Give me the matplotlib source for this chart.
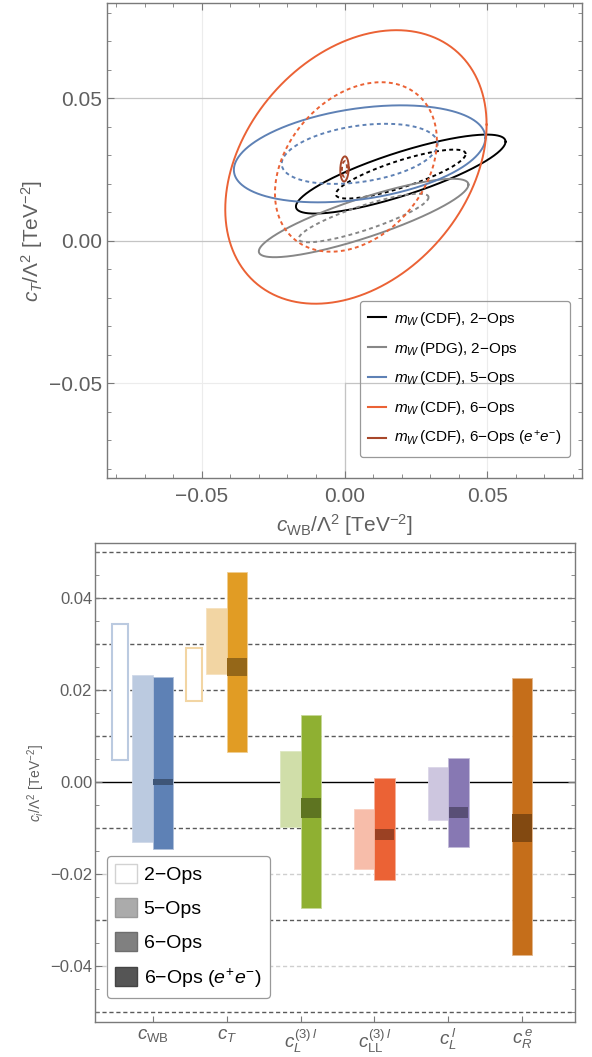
import numpy as np
import matplotlib
matplotlib.use("Agg")
import matplotlib.pyplot as plt
from matplotlib.lines import Line2D
from matplotlib.patches import Patch
import matplotlib.colors as mcolors

plt.rcParams['font.family'] = ['Liberation Sans', 'DejaVu Sans']
plt.rcParams['mathtext.fontset'] = 'custom'
plt.rcParams['mathtext.rm'] = 'Liberation Sans'
plt.rcParams['mathtext.it'] = 'Liberation Sans:italic'
plt.rcParams['mathtext.bf'] = 'Liberation Sans:bold'

# ---------------- top panel data: 2D fits in (c_WB, c_T) ----------------
fit_labels = [r"$m_W\,$(CDF), 2−Ops",
              r"$m_W\,$(PDG), 2−Ops",
              r"$m_W\,$(CDF), 5−Ops",
              r"$m_W\,$(CDF), 6−Ops",
              r"$m_W\,$(CDF), 6−Ops ($e^{+}e^{-}$)"]
fit_colors = ["#000000", "#878787", "#5E81B5", "#EB6235", "#A8472A"]
fit_center_x = [0.0197, 0.0067, 0.0053, 0.0040, 0.0000]
fit_center_y = [0.0234, 0.0080, 0.0305, 0.0259, 0.0252]
fit_sigma_x = [0.0150, 0.0150, 0.0180, 0.0187, 0.0006]
fit_sigma_y = [0.00566, 0.00562, 0.00695, 0.0196, 0.0018]
fit_rho = [0.82, 0.85, 0.33, 0.31, 0.10]
cl_dchi2 = [2.30, 5.99]          # 68% (dashed), 95% (solid)
cl_styles = ['dashed', 'solid']

# ---------------- bottom panel data: 1D intervals ----------------
coeff_labels = [r"$c_{\mathrm{WB}}$", r"$c_T$", r"$c_L^{(3)\,l}$",
                r"$c_{\mathrm{LL}}^{(3)\,l}$", r"$c_L^{\,l}$", r"$c_R^{\,e}$"]
coeff_colors = ["#5E81B5", "#E19C24", "#8FB032", "#EB6235", "#8778B3", "#C56E1A"]
nan = np.nan
ops2_lo = [0.0048, 0.0176, nan, nan, nan, nan]
ops2_hi = [0.0344, 0.0291, nan, nan, nan, nan]
ops5_lo = [-0.0130, 0.0236, -0.0097, -0.0188, -0.0083, nan]
ops5_hi = [0.0234, 0.0379, 0.0067, -0.0059, 0.0033, nan]
ops6_lo = [-0.0146, 0.0065, -0.0274, -0.0212, -0.0141, -0.0375]
ops6_hi = [0.0229, 0.0458, 0.0146, 0.0009, 0.0053, 0.0226]
ee_lo = [-0.0007, 0.0232, -0.0077, -0.0125, -0.0077, -0.0130]
ee_hi = [0.0007, 0.0270, -0.0034, -0.0101, -0.0054, -0.0069]
legend_bottom = ["2−Ops", "5−Ops", "6−Ops", r"6−Ops ($e^{+}e^{-}$)"]

TICK = "#5f5f5f"
FRAME = "#7a7a7a"

W, H = 592, 1057
fig = plt.figure(figsize=(W / 100, H / 100), dpi=100)


def px_axes(l, r, t, b):
    return fig.add_axes([l / W, 1 - b / H, (r - l) / W, (b - t) / H])


# ======================= TOP PANEL =======================
ax = px_axes(106.7, 582.3, 3.3, 478.3)
lim = 0.0833
ax.set_xlim(-lim, lim)
ax.set_ylim(-lim, lim)

# light grid
for v in [-0.05, 0.0, 0.05]:
    ax.axvline(v, color="#ececec", lw=0.8, zorder=0)
for v in [0.05, 0.0]:
    ax.axhline(v, color="#c4c4c4", lw=0.9, zorder=0)
ax.axhline(-0.05, xmin=0.5, xmax=1, color="#c4c4c4", lw=0.9, zorder=0)
ax.axhline(-0.05, xmin=0.0, xmax=0.5, color="#ececec", lw=0.8, zorder=0)
ax.axvline(0.0, ymin=0, ymax=(lim - 0.05) / (2 * lim), color="#c4c4c4", lw=0.9, zorder=0)

t = np.linspace(0, 2 * np.pi, 600)
circle = np.vstack([np.cos(t), np.sin(t)])
for cx, cy, sx, sy, r, col in zip(fit_center_x, fit_center_y, fit_sigma_x,
                                  fit_sigma_y, fit_rho, fit_colors):
    cov = np.array([[sx * sx, r * sx * sy], [r * sx * sy, sy * sy]])
    L = np.linalg.cholesky(cov)
    for k, st in zip(cl_dchi2, cl_styles):
        pts = (L @ circle) * np.sqrt(k)
        if st == 'dashed':
            ax.plot(cx + pts[0], cy + pts[1], color=col, lw=1.4,
                    linestyle=(0, (2.0, 1.7)), zorder=3)
        else:
            ax.plot(cx + pts[0], cy + pts[1], color=col, lw=1.4, zorder=3)

ax.set_xticks([-0.05, 0.0, 0.05])
ax.set_yticks([-0.05, 0.0, 0.05])
ax.set_xticklabels(["−0.05", "0.00", "0.05"])
ax.set_yticklabels(["−0.05", "0.00", "0.05"])
ax.set_xticks(np.arange(-0.08, 0.081, 0.01), minor=True)
ax.set_yticks(np.arange(-0.08, 0.081, 0.01), minor=True)
ax.tick_params(which='both', direction='in', top=True, right=True, color=FRAME)
ax.tick_params(which='major', length=5, width=0.8, labelsize=15, labelcolor=TICK)
ax.tick_params(axis='x', which='major', pad=6)
ax.tick_params(axis='y', which='major', pad=3.5)
ax.tick_params(which='minor', length=3, width=0.6)
for sp in ax.spines.values():
    sp.set_color(FRAME)
    sp.set_linewidth(1.0)

handles = [Line2D([0], [0], color=c, lw=1.5) for c in fit_colors]
leg = ax.legend(handles, fit_labels, loc='lower right',
                bbox_to_anchor=(0.974, 0.0455), borderaxespad=0,
                fontsize=11, labelspacing=0.78, handlelength=1.2,
                handletextpad=0.5, borderpad=0.55, fancybox=True,
                framealpha=1)
fr = leg.get_frame()
fr.set_alpha(None)
fr.set_facecolor((1, 1, 1, 0))
fr.set_edgecolor("#999999")
fr.set_linewidth(0.9)

fig.text(344.5 / W, 1 - 525 / H, r"$c_{\mathrm{WB}}/\Lambda^2$ [TeV$^{-2}$]",
         ha='center', va='center', fontsize=15, color=TICK)
fig.text(32 / W, 1 - 241 / H, r"$c_T/\Lambda^2$ [TeV$^{-2}$]",
         ha='center', va='center', fontsize=15, color=TICK, rotation=90)

# ======================= BOTTOM PANEL =======================
bx = px_axes(95.0, 575.3, 542.7, 1021.7)
bx.set_xlim(-0.781, 5.718)
bx.set_ylim(-0.0521, 0.0521)

for v in [0.05, 0.04, 0.03, 0.02, 0.01, -0.01, -0.03, -0.05]:
    bx.axhline(v, color="#5a5a5a", lw=1.0, linestyle=(0, (3, 2)), zorder=0)
for v in [-0.02, -0.04]:
    bx.axhline(v, color="#cfcfcf", lw=1.0, linestyle=(0, (3, 2)), zorder=0)
bx.axhline(0.0, color="black", lw=1.0, zorder=1)

x = np.arange(len(coeff_labels))
w = 0.277
w2 = 0.22


def lighten(c, a):
    rgb = np.array(mcolors.to_rgb(c))
    return tuple(rgb * a + (1 - a))


def darken(c, a):
    rgb = np.array(mcolors.to_rgb(c))
    return tuple(rgb * a)


for i in range(len(x)):
    col = coeff_colors[i]
    has5 = not np.isnan(ops5_lo[i])
    off6 = w / 2 if has5 else 0.0
    if not np.isnan(ops2_lo[i]):
        bx.bar(x[i] - 0.44, ops2_hi[i] - ops2_lo[i], bottom=ops2_lo[i], width=w2,
               facecolor='white', edgecolor=lighten(col, 0.42), lw=1.5, zorder=2)
    if has5:
        bx.bar(x[i] - w / 2, ops5_hi[i] - ops5_lo[i], bottom=ops5_lo[i], width=w,
               facecolor=lighten(col, 0.42), edgecolor=lighten(col, 0.30),
               lw=0.6, zorder=2)
    bx.bar(x[i] + off6, ops6_hi[i] - ops6_lo[i], bottom=ops6_lo[i], width=w,
           facecolor=col, edgecolor=lighten(col, 0.5), lw=0.6, zorder=3)
    bx.bar(x[i] + off6, ee_hi[i] - ee_lo[i], bottom=ee_lo[i], width=w - 0.012,
           facecolor=darken(col, 0.66), edgecolor='none', lw=0, zorder=4)

bx.set_xticks(x)
bx.set_xticklabels(coeff_labels)
bx.set_yticks([-0.04, -0.02, 0.0, 0.02, 0.04])
bx.set_yticklabels(["−0.04", "−0.02", "0.00", "0.02", "0.04"])
bx.set_yticks(np.arange(-0.05, 0.0501, 0.005), minor=True)
bx.tick_params(axis='y', which='both', direction='in', right=True, color=FRAME)
bx.tick_params(axis='y', which='major', length=5, width=0.8, labelsize=12,
               labelcolor=TICK, pad=2)
bx.tick_params(axis='y', which='minor', length=3, width=0.6)
bx.tick_params(axis='x', which='major', direction='in', length=4, width=0.8,
               color=FRAME, labelsize=13.5, labelcolor=TICK, pad=4)
for sp in bx.spines.values():
    sp.set_color(FRAME)
    sp.set_linewidth(1.0)

bh = [Patch(facecolor='white', edgecolor="#d2d2d2", lw=1.0),
      Patch(facecolor="#ababab", edgecolor="#9a9a9a", lw=1.0),
      Patch(facecolor="#808080", edgecolor="#6e6e6e", lw=1.0),
      Patch(facecolor="#555555", edgecolor="#444444", lw=1.0)]
leg2 = bx.legend(bh, legend_bottom, loc='lower left',
                 bbox_to_anchor=(0.0244, 0.0489), borderaxespad=0,
                 fontsize=14, labelspacing=0.72, handlelength=1.1,
                 handleheight=1.1, handletextpad=0.35, borderpad=0.45,
                 fancybox=True, framealpha=1, facecolor='white',
                 edgecolor="#999999")
leg2.get_frame().set_linewidth(0.9)

fig.text(36 / W, 1 - 783 / H, r"$c_i/\Lambda^2$ [TeV$^{-2}$]",
         ha='center', va='center', fontsize=10, color=TICK, rotation=90)

fig.savefig("out.png", dpi=100)
